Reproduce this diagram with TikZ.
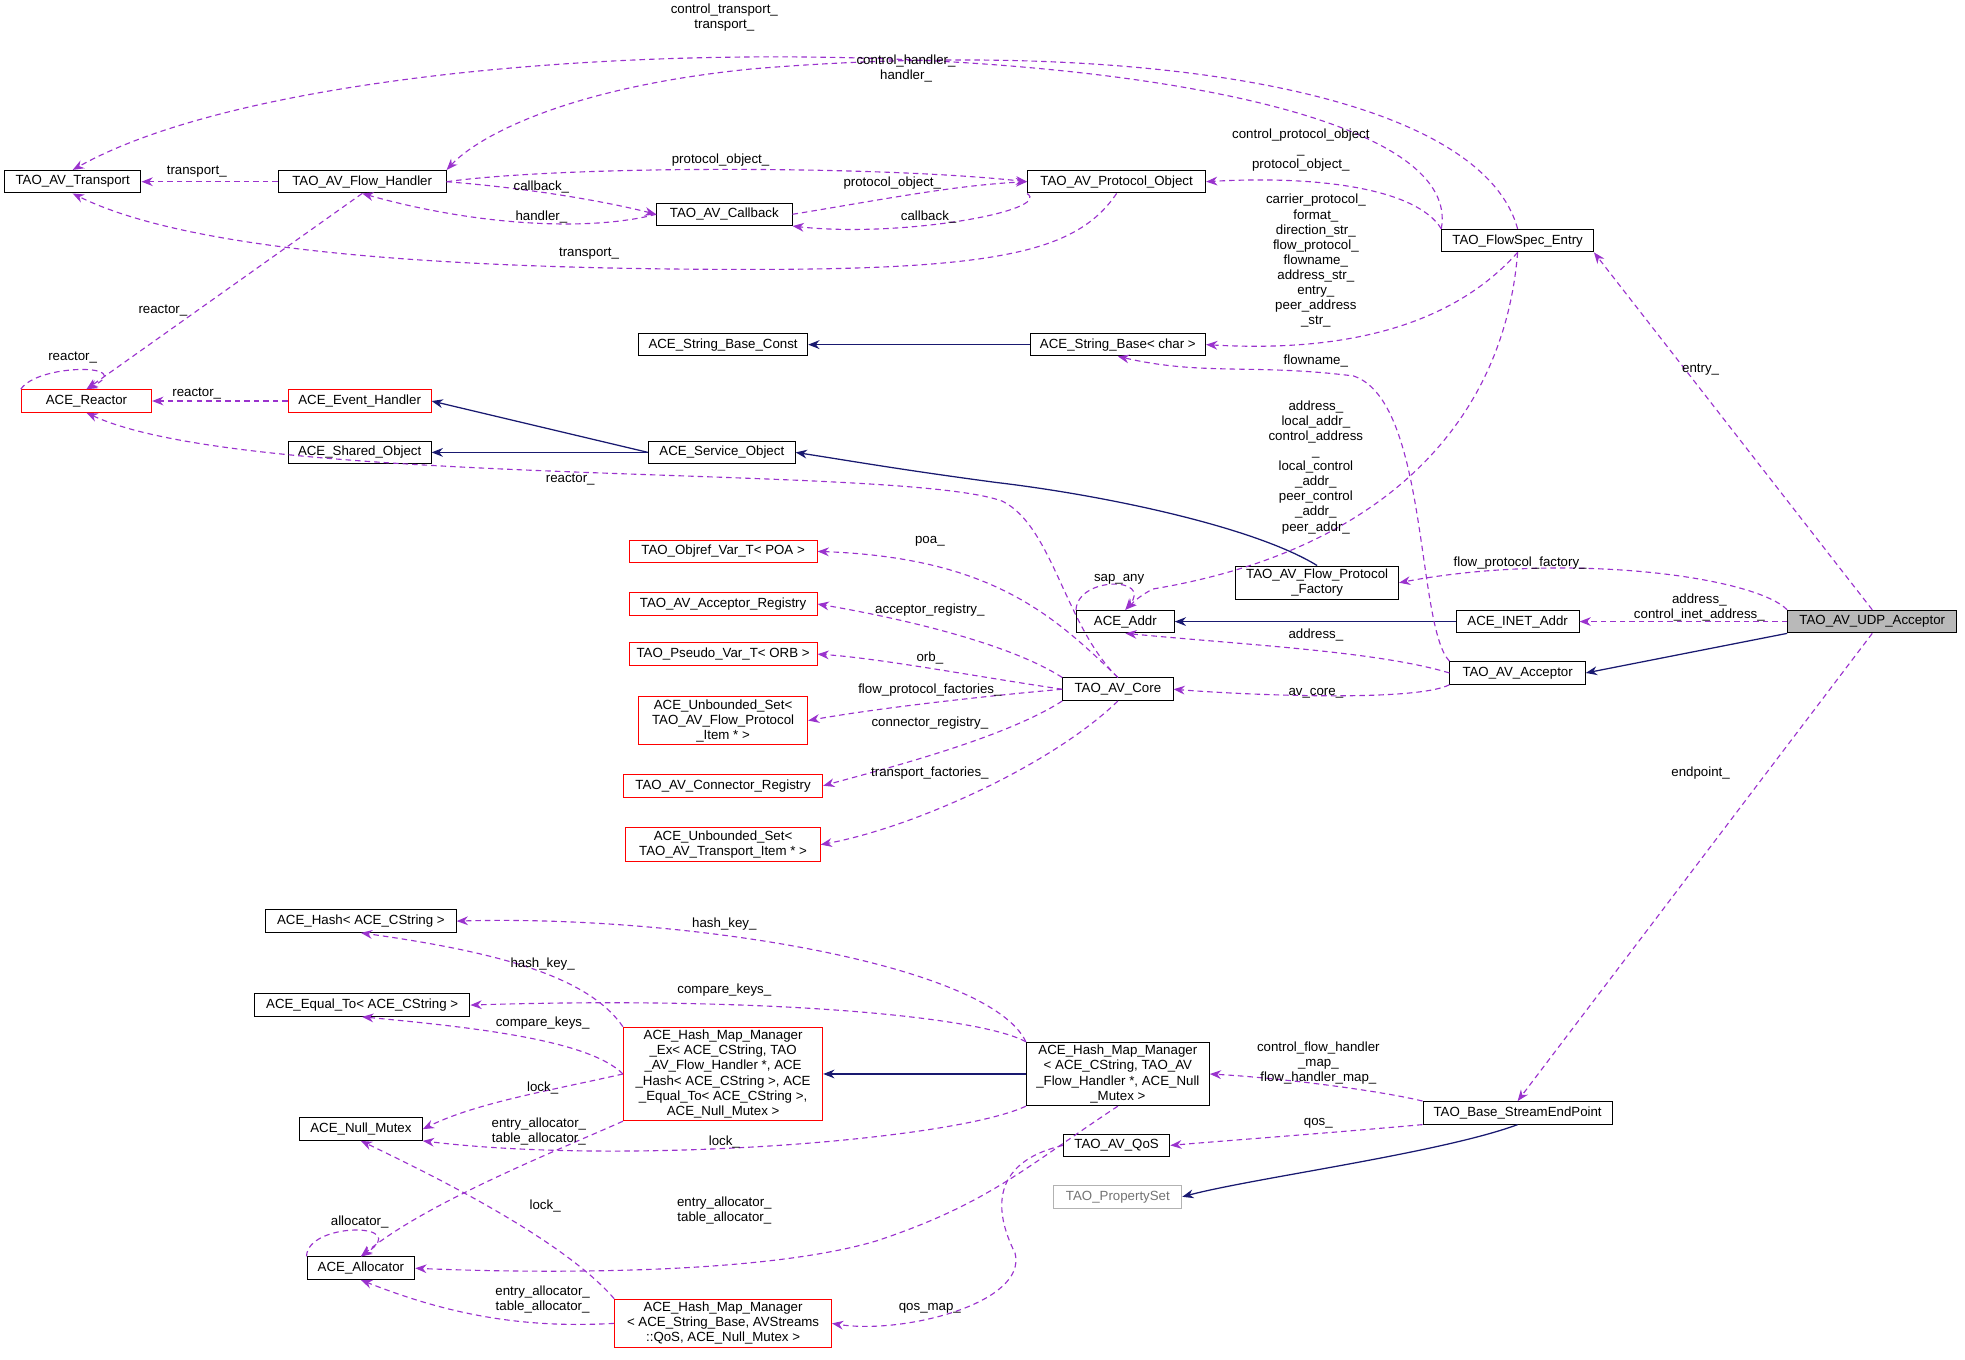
\documentclass[tikz,border=0pt]{standalone}
\usepackage{fontspec}
\setmainfont{Liberation Sans}
\usetikzlibrary{arrows.meta}
\definecolor{purp}{HTML}{9A32CD}
\definecolor{navy}{HTML}{191970}
\begin{document}
\begin{tikzpicture}[x=0.5pt,y=-0.5pt,
  every node/.style={font=\fontsize{5.3}{6}\selectfont},
  box/.style={draw=black,fill=white,align=center,inner sep=1.2pt,minimum height=9pt,line width=0.4pt},
  rbox/.style={box,draw=red},
  gbox/.style={box,draw=gray!60},
  w/.style={minimum width=#1*0.5pt},
  e/.style={dashed,draw=purp,line width=0.45pt,-{Stealth[length=4.5pt,width=3.5pt]},dash pattern=on 2.2pt off 1.6pt},
  inh/.style={draw=navy,line width=0.5pt,-{Stealth[length=4.5pt,width=3.5pt]}},
  lbl/.style={align=center,inner sep=0pt}]
\useasboundingbox (0,0) rectangle (1568,1085);
% nodes
\node[box,w=109] (tr) at (58,145) {TAO\_AV\_Transport};
\node[box,w=134] (fh) at (289,145) {TAO\_AV\_Flow\_Handler};
\node[box,w=142] (po) at (891,145) {TAO\_AV\_Protocol\_Object};
\node[box,w=108] (cb) at (578,171) {TAO\_AV\_Callback};
\node[box,w=121] (fse) at (1211,192) {TAO\_FlowSpec\_Entry};
\node[box,w=135] (sbc) at (577,275) {ACE\_String\_Base\_Const};
\node[box,w=140] (sb) at (892,275) {ACE\_String\_Base< char >};
\node[rbox,w=104] (re) at (69,320) {ACE\_Reactor};
\node[rbox,w=114] (eh) at (287,320) {ACE\_Event\_Handler};
\node[box,w=114] (so) at (287,361) {ACE\_Shared\_Object};
\node[box,w=117] (svc) at (576,361) {ACE\_Service\_Object};
\node[rbox,w=150] (poa) at (577,440) {TAO\_Objref\_Var\_T< POA >};
\node[box,w=130] (fpf) at (1051,465) {TAO\_AV\_Flow\_Protocol\\\_Factory};
\node[box,w=78] (addr) at (898,496) {ACE\_Addr};
\node[box,w=98] (inet) at (1211,496) {ACE\_INET\_Addr};
\node[box,w=135,fill=gray!55] (udp) at (1494,496) {TAO\_AV\_UDP\_Acceptor};
\node[rbox,w=150] (ar) at (577,482) {TAO\_AV\_Acceptor\_Registry};
\node[rbox,w=150] (orb) at (577,522) {TAO\_Pseudo\_Var\_T< ORB >};
\node[box,w=108] (acc) at (1211,537) {TAO\_AV\_Acceptor};
\node[box,w=88] (core) at (892,550) {TAO\_AV\_Core};
\node[rbox,w=135] (us1) at (577,575) {ACE\_Unbounded\_Set<\\TAO\_AV\_Flow\_Protocol\\\_Item * >};
\node[rbox,w=159] (cr) at (577,627) {TAO\_AV\_Connector\_Registry};
\node[rbox,w=155] (us2) at (577,674) {ACE\_Unbounded\_Set<\\TAO\_AV\_Transport\_Item * >};
\node[box,w=152] (hash) at (288,735) {ACE\_Hash< ACE\_CString >};
\node[box,w=172] (eq) at (289,802) {ACE\_Equal\_To< ACE\_CString >};
\node[rbox,w=159] (hmmex) at (577,857) {ACE\_Hash\_Map\_Manager\\\_Ex< ACE\_CString, TAO\\\_AV\_Flow\_Handler *, ACE\\\_Hash< ACE\_CString >, ACE\\\_Equal\_To< ACE\_CString >,\\ACE\_Null\_Mutex >};
\node[box,w=146] (hmm) at (892,857) {ACE\_Hash\_Map\_Manager\\< ACE\_CString, TAO\_AV\\\_Flow\_Handler *, ACE\_Null\\\_Mutex >};
\node[box,w=98] (nm) at (288,901) {ACE\_Null\_Mutex};
\node[box,w=151] (bse) at (1211,888) {TAO\_Base\_StreamEndPoint};
\node[box,w=85] (qos) at (891,914) {TAO\_AV\_QoS};
\node[gbox,w=102,text=gray!90!black] (ps) at (892,955) {TAO\_PropertySet};
\node[box,w=86] (al) at (288,1012) {ACE\_Allocator};
\node[rbox,w=173] (hmmsb) at (577,1056) {ACE\_Hash\_Map\_Manager\\< ACE\_String\_Base, AVStreams\\::QoS, ACE\_Null\_Mutex >};
% inheritance
\draw[inh] (sb) -- (sbc);
\draw[inh] (svc.west) -- (eh.east);
\draw[inh] (svc) -- (so);
\draw[inh] (fpf.north) .. controls (1000,420) and (880,395) .. (795,385) .. controls (720,375) and (680,368) .. (svc.east);
\draw[inh] (inet) -- (addr);
\draw[inh] (udp.south west) -- (acc.east);
\draw[inh] (hmm) -- (hmmex);
\draw[inh] (bse.south) .. controls (1150,920) and (1000,940) .. (ps.east);
% dashed edges
\draw[e] (fse.north west) .. controls (1180,20) and (300,0) .. (tr.north);
\node[lbl] (l1) at (578,14) {control\_transport\_\\transport\_};
\draw[e] (fse.north) .. controls (1180,70) and (900,30) .. (600,55) .. controls (450,70) and (380,110) .. (fh.north east);
\node[lbl] (l2) at (723,55) {control\_handler\_\\handler\_};
\draw[e] (fh.east) .. controls (450,132) and (700,132) .. (po.west);
\node[lbl] (l3) at (575,128) {protocol\_object\_};
\draw[e] (fse.north west) .. controls (1130,150) and (1050,140) .. (po.east);
\node[lbl] (l4) at (1038,120) {control\_protocol\_object\\\_\\protocol\_object\_};
\draw[e] (fh.west) -- (tr.east);
\node[lbl] (l5) at (157,137) {transport\_};
\draw[e] (fh.east) .. controls (420,150) and (480,160) .. (cb.west);
\node[lbl] (l6) at (432,149) {callback\_};
\draw[e] (cb.east) .. controls (700,160) and (760,148) .. (po.west);
\node[lbl] (l7) at (712,146) {protocol\_object\_};
\draw[e] (cb.west) .. controls (470,185) and (380,180) .. (fh.south);
\node[lbl] (l8) at (432,173) {handler\_};
\draw[e] (po.south west) .. controls (840,168) and (720,190) .. (cb.south east);
\node[lbl] (l9) at (741,173) {callback\_};
\draw[e] (po.south) .. controls (860,200) and (800,215) .. (600,215) .. controls (350,215) and (150,200) .. (tr.south);
\node[lbl] (l10) at (470,202) {transport\_};
\draw[e] (fh.south) -- (re.north);
\node[lbl] (l11) at (130,248) {reactor\_};
\draw[e] (fse.south) .. controls (1150,270) and (1050,280) .. (sb.east);
\node[lbl] (l12) at (1050,208) {carrier\_protocol\_\\format\_\\direction\_str\_\\flow\_protocol\_\\flowname\_\\address\_str\_\\entry\_\\peer\_address\\\_str\_};
\draw[e] (re.north west) .. controls (30,290) and (110,290) .. (re.north);
\node[lbl] (l13) at (58,285) {reactor\_};
\draw[e] (eh.west) -- (re.east);
\node[lbl] (l14) at (157,314) {reactor\_};
\draw[e] (acc.north west) .. controls (1130,500) and (1140,320) .. (1080,300) .. controls (1000,290) and (960,300) .. (sb.south);
\node[lbl] (l15) at (1050,288) {flowname\_};
\draw[e] (fse.south) .. controls (1200,340) and (1100,440) .. (920,470) .. controls (910,475) and (905,480) .. (addr.north);
\node[lbl] (l16) at (1050,373) {address\_\\local\_addr\_\\control\_address\\\_\\local\_control\\\_addr\_\\peer\_control\\\_addr\_\\peer\_addr\_};
\draw[e] (core.north) .. controls (850,500) and (840,420) .. (800,400) .. controls (720,370) and (200,390) .. (re.south);
\node[lbl] (l17) at (455,383) {reactor\_};
\draw[e] (core.north) .. controls (840,490) and (790,445) .. (poa.east);
\node[lbl] (l18) at (742,432) {poa\_};
\draw[e] (core.north west) .. controls (800,510) and (700,490) .. (ar.east);
\node[lbl] (l19) at (742,487) {acceptor\_registry\_};
\draw[e] (core.west) .. controls (780,540) and (700,525) .. (orb.east);
\node[lbl] (l20) at (742,525) {orb\_};
\draw[e] (core.west) .. controls (790,555) and (700,565) .. (us1.east);
\node[lbl] (l21) at (742,551) {flow\_protocol\_factories\_};
\draw[e] (core.south west) .. controls (800,590) and (700,615) .. (cr.east);
\node[lbl] (l22) at (742,577) {connector\_registry\_};
\draw[e] (core.south) .. controls (840,610) and (730,660) .. (us2.east);
\node[lbl] (l23) at (742,617) {transport\_factories\_};
\draw[e] (addr.north west) .. controls (860,460) and (920,460) .. (addr.north);
\node[lbl] (l24) at (893,462) {sap\_any};
\draw[e] (udp.north west) .. controls (1400,460) and (1250,440) .. (fpf.east);
\node[lbl] (l25) at (1213,449) {flow\_protocol\_factory\_};
\draw[e] (udp.west) -- (inet.east);
\node[lbl] (l26) at (1356,485) {address\_\\control\_inet\_address\_};
\draw[e] (udp.north) -- (fse.south east);
\node[lbl] (l27) at (1357,295) {entry\_};
\draw[e] (acc.west) .. controls (1100,520) and (1000,515) .. (addr.south);
\node[lbl] (l28) at (1050,507) {address\_};
\draw[e] (acc.south west) .. controls (1130,560) and (1000,555) .. (core.east);
\node[lbl] (l29) at (1050,553) {av\_core\_};
\draw[e] (udp.south) -- (bse.north);
\node[lbl] (l30) at (1357,617) {endpoint\_};
\draw[e] (hmm.north west) .. controls (790,770) and (550,730) .. (hash.east);
\node[lbl] (l31) at (578,737) {hash\_key\_};
\draw[e] (hmmex.north west) .. controls (470,780) and (400,760) .. (hash.south);
\node[lbl] (l32) at (433,769) {hash\_key\_};
\draw[e] (hmm.north west) .. controls (780,810) and (600,795) .. (eq.east);
\node[lbl] (l33) at (578,790) {compare\_keys\_};
\draw[e] (hmmex.west) .. controls (470,830) and (380,820) .. (eq.south);
\node[lbl] (l34) at (433,816) {compare\_keys\_};
\draw[e] (hmmex.west) .. controls (440,870) and (380,880) .. (nm.east);
\node[lbl] (l35) at (433,868) {lock\_};
\draw[e] (hmmex.south west) .. controls (440,920) and (340,960) .. (al.north);
\node[lbl] (l36) at (430,903) {entry\_allocator\_\\table\_allocator\_};
\draw[e] (hmm.south west) .. controls (760,910) and (500,930) .. (nm.south east);
\node[lbl] (l37) at (578,911) {lock\_};
\draw[e] (bse.north west) .. controls (1100,870) and (1020,860) .. (hmm.east);
\node[lbl] (l38) at (1052,848) {control\_flow\_handler\\\_map\_\\flow\_handler\_map\_};
\draw[e] (bse.south west) .. controls (1050,905) and (980,910) .. (qos.east);
\node[lbl] (l39) at (1052,896) {qos\_};
\draw[e] (hmm.south) .. controls (820,930) and (790,960) .. (700,990) .. controls (600,1020) and (400,1015) .. (al.east);
\node[lbl] (l40) at (578,966) {entry\_allocator\_\\table\_allocator\_};
\draw[e] (hmmsb.north west) .. controls (450,990) and (350,940) .. (nm.south);
\node[lbl] (l41) at (435,962) {lock\_};
\draw[e] (al.north west) .. controls (245,975) and (330,975) .. (al.north);
\node[lbl] (l42) at (287,975) {allocator\_};
\draw[e] (hmmsb.west) .. controls (420,1060) and (360,1050) .. (al.south);
\node[lbl] (l43) at (433,1037) {entry\_allocator\_\\table\_allocator\_};
\draw[e] (qos.west) .. controls (780,930) and (800,980) .. (810,1000) .. controls (820,1040) and (720,1065) .. (hmmsb.east);
\node[lbl] (l44) at (742,1044) {qos\_map\_};
\end{tikzpicture}
\end{document}
